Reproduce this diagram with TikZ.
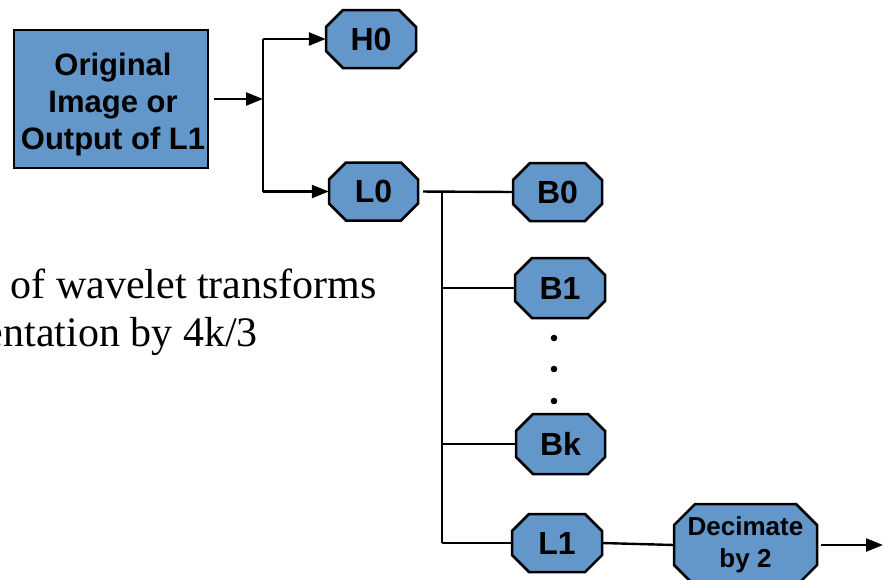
\documentclass[tikz,border=0pt]{standalone}
\usepackage{fontspec}
\setmainfont{Liberation Serif}
\newfontfamily\lsans{Liberation Sans}
\usetikzlibrary{arrows.meta}
\definecolor{boxblue}{RGB}{99,150,201}
\tikzset{
  wire/.style={line width=2.4pt, draw=black},
  arr/.style={wire, -{Triangle[length=17pt,width=13pt]}},
  srcbox/.style={draw=black, line width=2.5pt, fill=boxblue, minimum width=194pt,
    minimum height=138pt, inner sep=0pt},
  srctext/.style={inner sep=0pt, align=center,
    font=\lsans\bfseries\fontsize{31}{37}\selectfont},
  octshape/.style={draw=black, line width=2.5pt, fill=boxblue, line join=miter},
  octlabel/.style={inner sep=0pt, align=center,
    font=\lsans\bfseries\fontsize{32}{37}\selectfont},
  declabel/.style={octlabel, font=\lsans\bfseries\fontsize{26}{32}\selectfont},
  bodytext/.style={inner sep=0pt, font=\fontsize{42}{50}\selectfont},
}
% name, cx, cy, w, h, chamfer, style, text
\newcommand\octbox[8]{%
  \pgfmathsetmacro\octL{#2-#4/2}\pgfmathsetmacro\octR{#2+#4/2}%
  \pgfmathsetmacro\octT{#3-#5/2}\pgfmathsetmacro\octB{#3+#5/2}%
  \pgfmathsetmacro\octLi{\octL+#6}\pgfmathsetmacro\octRi{\octR-#6}%
  \pgfmathsetmacro\octTi{\octT+#6}\pgfmathsetmacro\octBi{\octB-#6}%
  \path[octshape] (\octLi,\octT) -- (\octRi,\octT) -- (\octR,\octTi) -- (\octR,\octBi)
    -- (\octRi,\octB) -- (\octLi,\octB) -- (\octL,\octBi) -- (\octL,\octTi) -- cycle;
  \node[#7, minimum width=#4 pt, minimum height=#5 pt] (#1) at (#2,#3) {#8};%
}
\begin{document}
\begin{tikzpicture}[x=1pt,y=-1pt]
\useasboundingbox (0,0) rectangle (883,579);
\clip (0,0) rectangle (883,579);

% body text (partly cut off on the left, as in the reference)
\node[bodytext, anchor=base east] (t1) at (377,298) {of wavelet transforms};
\node[bodytext, anchor=base east] (t2) at (258,346) {entation by 4k/3};

% source box
\node[srcbox] (src) at (111,99) {};
\node[srctext] (srclabel) at (113,104) {Original\\Image or\\Output of L1};

% octagons
\octbox{H0}{371}{39}{90}{58}{17}{octlabel}{H0}
\octbox{L0}{373.5}{191.5}{89}{58}{17}{octlabel}{L0}
\octbox{B0}{557.5}{192}{89}{58}{17}{octlabel}{B0}
\octbox{B1}{560}{288}{90}{60}{17}{octlabel}{B1}
\octbox{Bk}{560.5}{444}{89}{60}{17}{octlabel}{Bk}
\octbox{L1}{557}{543}{90}{58}{17}{octlabel}{L1}
\octbox{Dec}{745.5}{545}{143}{82}{21}{declabel}{Decimate\\by 2}

% first split
\coordinate (j1) at (263,99);
\coordinate (jt) at (263,39);
\coordinate (jb) at (263,191.5);
\draw[arr, shorten <=5pt] (src.east) -- (j1);
\draw[wire] (jt) -- (jb);
\draw[arr] (jt) -- (H0.west);
\draw[arr] (jb) -- (L0.west);

% second split
\coordinate (k0) at (442,192);
\coordinate (k1) at (442,288);
\coordinate (kk) at (442,444);
\coordinate (kl) at (442,543);
\draw[wire, shorten <=5pt] (L0.east) -- (B0.west);
\draw[wire] (k0) -- (kl);
\draw[wire] (k1) -- (B1.west);
\draw[wire] (kk) -- (Bk.west);
\draw[wire] (kl) -- (L1.west);
\draw[wire] (L1.east) -- (Dec.west);
\coordinate (out) at (883,545);
\draw[arr, shorten <=4pt] (Dec.east) -- (out);

% ellipsis dots
\fill (554,338) circle (3.3pt);
\fill (554,369) circle (3.3pt);
\fill (554,401) circle (3.3pt);
\end{tikzpicture}
\end{document}
